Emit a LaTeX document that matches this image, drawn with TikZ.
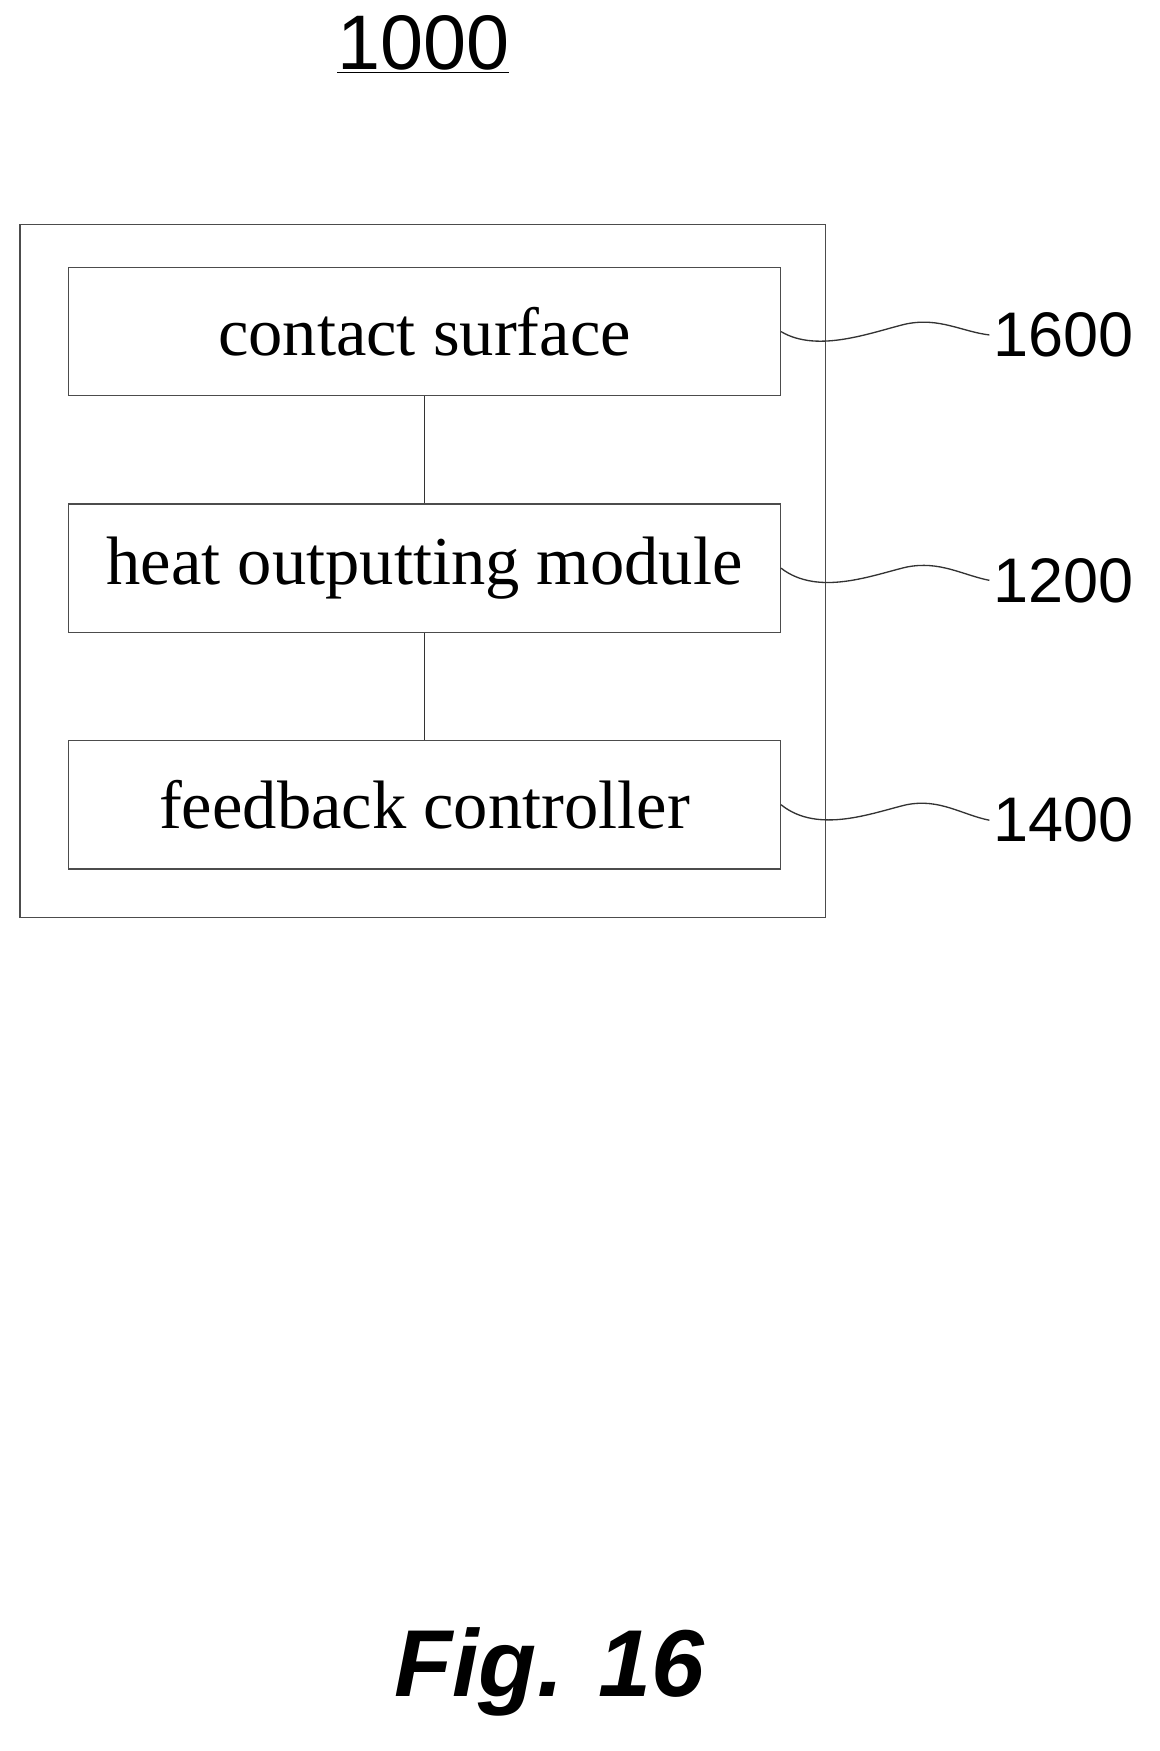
\documentclass[tikz,border=0pt]{standalone}
\usepackage{fontspec}
\setmainfont{Liberation Serif}
\setsansfont{Liberation Sans}
\usetikzlibrary{positioning}
\begin{document}
\begin{tikzpicture}[x=1pt,y=-1pt,
blockbox/.style={rectangle, draw=black!70, line width=1.2pt, minimum width=644pt, minimum height=116pt, font=\fontsize{62}{62}\selectfont},
refnum/.style={anchor=west, font=\sffamily\fontsize{57}{57}\selectfont},
leader/.style={draw=black!80, line width=1.2pt},
]
\useasboundingbox (0,0) rectangle (1049,1584);
%Nodes
%%% Titulo
\node (titulo) at (383,40) {\sffamily\fontsize{70}{70}\selectfont\underline{1000}};
%%% Caja exterior
\node[draw=black!70, line width=1.2pt, minimum width=729pt, minimum height=627pt] (sistema) at (382.5,516.5) {};
%%% Bloques
\node[blockbox] (contacto) at (384,300) {contact surface};
\node[blockbox] (calor)    at (384,514) {heat outputting module};
\node[blockbox] (control)  at (384,728) {feedback controller};
%%% Referencias
\node[refnum] (refUno)  at (895,303) {1600};
\node[refnum] (refDos)  at (895,525) {1200};
\node[refnum] (refTres) at (895,742) {1400};
%%% Figura
\node (figura) at (497,1512) {\sffamily\bfseries\itshape\fontsize{86}{86}\selectfont Fig. 16};

%Lines
\draw[leader] (contacto) -- (calor);
\draw[leader] (calor) -- (control);
%%% Guias onduladas
\draw[leader] (contacto.east) .. controls (740,320) and (790,300) .. (820,293) .. controls (850,287) and (870,300) .. (refUno.west);
\draw[leader] (calor.east) .. controls (740,540) and (790,520) .. (820,513) .. controls (850,507) and (870,520) .. (refDos.west);
\draw[leader] (control.east) .. controls (740,755) and (790,735) .. (820,728) .. controls (850,722) and (870,737) .. (refTres.west);
\end{tikzpicture}
\end{document}
